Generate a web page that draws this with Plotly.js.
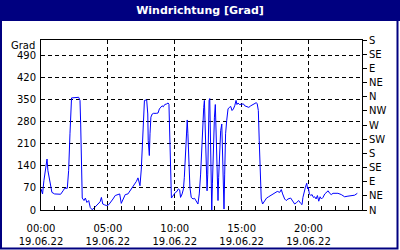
<!DOCTYPE html>
<html>
<head>
<meta charset="utf-8">
<script src="https://cdn.plot.ly/plotly-3.0.1.min.js"></script>
<style>
html,body{margin:0;padding:0;background:#fff;}
#chart{width:400px;height:250px;}
</style>
</head>
<body>
<div id="chart"></div>
<script>
const day = "2022-06-19";
const times = ["00:00","00:07","00:13","00:19","00:27","00:31","00:36","00:42","00:49","01:01","01:16","01:28","01:39","01:46","01:58",
"02:04","02:10","02:15","02:17","02:49","02:55","02:58","03:02","03:05","03:13","03:19","03:26","03:34","03:41","03:49","03:58",
"04:08","04:16","04:25","04:31","04:37","04:46","04:55","05:04","05:13","05:23","05:33","05:45","05:53","06:00","06:08","06:18",
"06:30","06:39","06:48","06:57","07:08","07:15","07:21","07:24","07:30","07:35","07:39","07:44","07:54","07:59","08:01","08:06",
"08:09","08:13","08:19","08:24","08:37","08:45","08:51","08:57","09:03","09:09","09:15","09:24","09:30","09:34","09:37","09:42",
"09:45","09:49","09:55","10:03","10:10","10:16","10:22","10:26","10:33","10:39","10:43","10:47","10:52","10:56","10:59","11:04",
"11:08","11:14","11:22","11:29","11:38","11:44","11:47","11:50","11:56","12:01","12:05","12:10","12:13","12:16","12:19","12:22",
"12:25","12:28","12:31","12:34","12:37","12:40","12:43","12:46","12:49","12:53","12:58","13:02","13:05","13:08","13:11","13:14",
"13:17","13:22","13:26","13:31","13:35","13:38","13:41","13:44","13:48","13:53","13:56","13:59","14:05","14:11","14:17","14:23",
"14:29","14:35","14:39","14:44","14:50","14:59","15:08","15:14","15:23","15:32","15:41","15:50","15:59","16:06","16:10","16:15",
"16:19","16:24","16:28","16:34","16:43","16:52","17:01","17:10","17:19","17:25","17:31","17:40","17:51","17:58","18:04","18:13",
"18:20","18:28","18:40","18:49","18:58","19:07","19:16","19:25","19:31","19:35","19:40","19:46","19:52","19:56","19:59","20:04",
"20:10","20:16","20:22","20:28","20:34","20:40","20:46","20:52","20:58","21:05","21:13","21:20","21:28","21:35","21:42","21:50",
"21:57","22:12","22:27","22:42","22:57","23:12","23:27","23:39"];
const direction = [67,51,93,125,162,125,104,72,56,51,50,50,61,69,69,
125,242,316,356,358,348,273,114,38,30,38,24,30,8,1,6,
14,22,26,40,19,16,14,17,24,35,46,49,51,21,35,49,
51,61,67,77,91,102,83,77,130,194,268,348,350,305,220,173,
242,295,305,307,307,308,321,326,331,328,335,337,340,336,263,167,
38,42,49,56,59,67,64,40,51,67,104,167,252,286,242,136,
72,40,35,37,28,19,35,51,114,210,279,326,348,273,167,83,
61,114,273,348,354,220,61,0,83,210,295,335,253,114,51,30,
104,199,252,273,167,61,3,114,242,284,316,321,326,329,316,321,
331,348,335,340,335,337,337,331,329,326,331,335,340,341,337,316,
220,114,35,19,30,38,42,46,51,53,56,59,56,65,51,35,
30,35,38,30,19,24,30,21,17,40,61,72,85,67,72,51,
46,49,40,42,35,46,28,42,35,40,51,56,61,53,49,53,
53,53,49,42,44,46,47,53];
const gradTicks = [0,70,140,210,280,350,420,490];
const compassVals = [0,45,90,135,180,225,270,315,360,405,450,495,540];
const compassText = ["N","NE","E","SE","S","SW","W","NW","N","NE","E","SE","S"];
const titleText = "Windrichtung [Grad]";
const unitLabel = "Grad";

const x = times.map(t => day + " " + t);
const font = {family: "DejaVu Sans", size: 10, color: "#000"};
const navy = "#000080";
const gridDash = "4px,3px";

const trace = {x: x, y: direction, type: "scatter", mode: "lines",
  line: {color: "#0000ff", width: 1}, hoverinfo: "skip", showlegend: false};

const layout = {
  width: 400, height: 250,
  margin: {l: 41, r: 38, t: 40, b: 40, pad: 0},
  paper_bgcolor: "#fff", plot_bgcolor: "#fff",
  font: font,
  showlegend: false,
  title: {text: titleText, font: {family: "DejaVu Sans", size: 11, color: "#fff", weight: "bold"},
    x: 0.5, xanchor: "center", xref: "container", y: 1 - 10.5/250, yanchor: "middle", yref: "container"},
  xaxis: {type: "date", range: [day + " 00:00", "2022-06-20 00:00"],
    tick0: day + " 00:00", dtick: 5*3600000, tickformat: "%H:%M<br>%d.%m.%y",
    ticks: "inside", ticklen: 4, tickcolor: "#000", ticklabelstandoff: 9,
    minor: {dtick: 3600000, ticks: "inside", ticklen: 4, tickcolor: "#000", showgrid: false},
    showgrid: true, gridcolor: "#000", griddash: gridDash, gridwidth: 1,
    showline: true, linecolor: "#000", linewidth: 1, mirror: true,
    zeroline: false, fixedrange: true, tickfont: font},
  yaxis: {range: [0, 540], tickvals: gradTicks, ticks: "", ticklabelstandoff: 2,
    showgrid: true, gridcolor: "#000", griddash: gridDash, gridwidth: 1,
    showline: true, linecolor: "#000", linewidth: 1, mirror: true,
    zeroline: false, fixedrange: true, tickfont: font},
  yaxis2: {range: [0, 540], overlaying: "y", side: "right", tickmode: "array",
    tickvals: compassVals, ticktext: compassText, ticks: "outside", ticklen: 4, tickcolor: "#000",
    showgrid: false, showline: true, linecolor: "#000", zeroline: false, fixedrange: true, tickfont: font},
  annotations: [{text: unitLabel, xref: "paper", yref: "paper", x: -0.012, y: 0.97,
    xanchor: "right", yanchor: "middle", showarrow: false, font: font}],
  shapes: [
    {type: "rect", xref: "paper", yref: "paper", x0: -41/321, x1: 1 + 38/321, y0: 1 + 19/170, y1: 1 + 40/170,
     fillcolor: navy, line: {width: 0}, layer: "below"},
    {type: "rect", xref: "paper", yref: "paper", x0: -40/321, x1: 1 + 35.5/321, y0: -38.5/170, y1: 1 + 39/170,
     fillcolor: "rgba(0,0,0,0)", line: {color: navy, width: 2}, layer: "below"}
  ]
};

Plotly.newPlot("chart", [trace, {x: [], y: [], yaxis: "y2", type: "scatter", showlegend: false, hoverinfo: "skip"}], layout, {staticPlot: true, displayModeBar: false});
</script>
</body>
</html>
